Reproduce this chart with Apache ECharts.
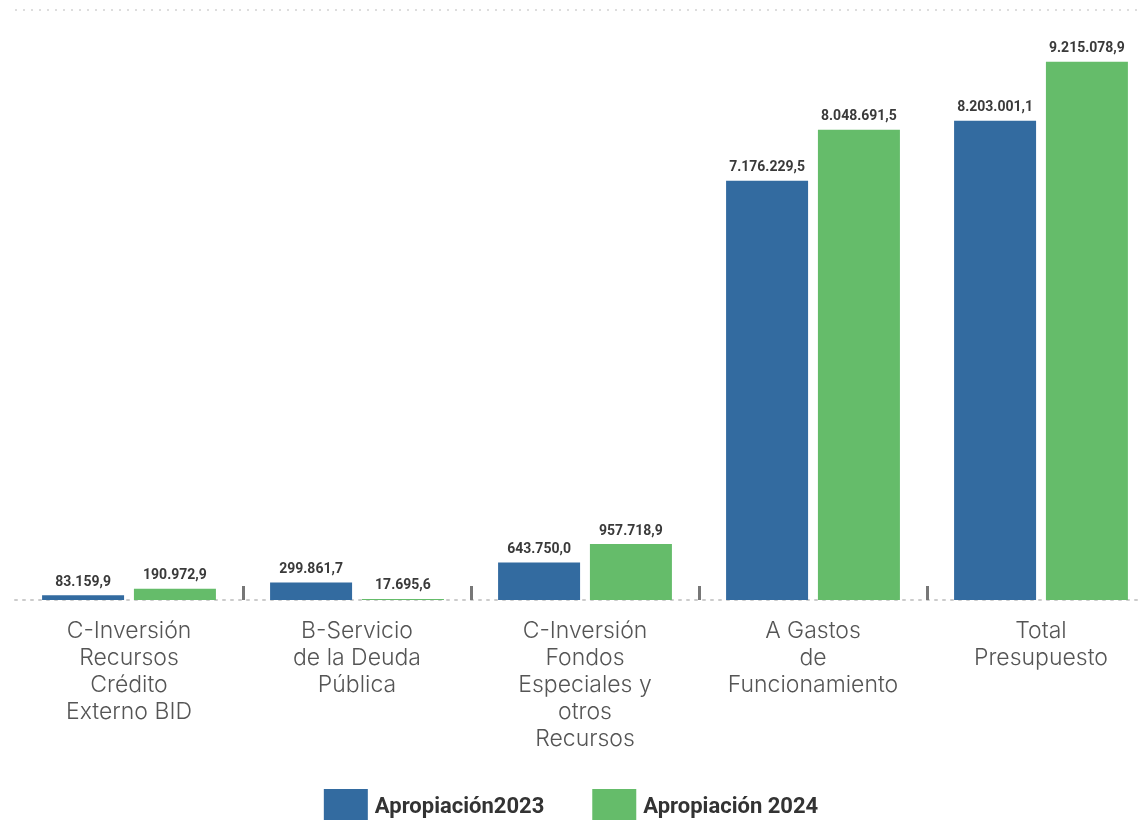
<!DOCTYPE html>
<html>
<head>
<meta charset="utf-8">
<script src="https://cdn.jsdelivr.net/npm/echarts@6/dist/echarts.min.js"></script>
<style>html,body{margin:0;padding:0;background:#fff;}#c{width:1142px;height:820px;}</style>
</head>
<body>
<div id="c"></div>
<script>
const categories = [
  "C-Inversión\nRecursos\nCrédito\nExterno BID",
  "B-Servicio\nde la Deuda\nPública",
  "C-Inversión\nFondos\nEspeciales y\notros\nRecursos",
  "A Gastos\nde\nFuncionamiento",
  "Total\nPresupuesto"
];
const seriesNames = ["Apropiación2023", "Apropiación 2024"];
const values2023 = [83159.9, 299861.7, 643750.0, 7176229.5, 8203001.1];
const values2024 = [190972.9, 17695.6, 957718.9, 8048691.5, 9215078.9];

function fmt(v) {
  const parts = v.toFixed(1).split('.');
  const intPart = parts[0].replace(/\B(?=(\d{3})+(?!\d))/g, '.');
  return intPart + ',' + parts[1];
}

const chart = echarts.init(document.getElementById('c'));
const labelStyle = {
  show: true, position: 'top', distance: 6,
  fontFamily: 'Roboto', fontWeight: 'bold', fontSize: 14, color: '#3a3a3a',
  formatter: p => fmt(p.value)
};
chart.setOption({
  animation: false,
  grid: { left: 15, width: 1140, top: 10, height: 590, outerBoundsMode: 'none', containLabel: false },
  legend: {
    top: 784, left: 'center',
    itemWidth: 44, itemHeight: 37, itemGap: 48,
    icon: 'rect',
    textStyle: { fontFamily: 'Roboto', fontWeight: 'bold', fontSize: 22, color: '#333', padding: [0, 0, 0, 2] },
    data: seriesNames
  },
  xAxis: {
    type: 'category', data: categories,
    axisLine: { show: true, lineStyle: { color: '#cccccc', type: [2, 6], width: 2 } },
    axisTick: { show: true, inside: true, length: 14, interval: (i) => i > 0, lineStyle: { color: '#777', width: 3 } },
    axisLabel: { margin: 18, fontFamily: 'Inter', fontWeight: 300, fontSize: 23, lineHeight: 27, color: '#555', interval: 0 }
  },
  yAxis: {
    type: 'value', min: 0, max: 10100000, interval: 10100000,
    axisLabel: { show: false }, axisLine: { show: false }, axisTick: { show: false },
    splitLine: { show: true, lineStyle: { color: '#dddddd', type: [2, 6], width: 2 } }
  },
  series: [
    { name: seriesNames[0], type: 'bar', data: values2023, barWidth: 82, barGap: '12%',
      itemStyle: { color: '#336ba0' }, label: labelStyle },
    { name: seriesNames[1], type: 'bar', data: values2024, barWidth: 82,
      itemStyle: { color: '#65bc6a' }, label: labelStyle }
  ]
});
</script>
</body>
</html>
